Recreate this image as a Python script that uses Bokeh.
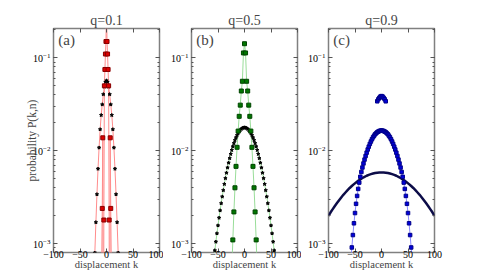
from bokeh.plotting import figure
from bokeh.layouts import row
from bokeh.models import Range1d, FixedTicker, LogTicker, LogAxis, LinearAxis, Label
from bokeh.embed import file_html
from bokeh.resources import INLINE

FONT = "Liberation Serif"

def mirror(ks, ps):
    k = [-x for x in reversed(ks[1:])] + list(ks)
    p = list(reversed(ps[1:])) + list(ps)
    return k, p

# ---------------- data ----------------
titles = ["q=0.1", "q=0.5", "q=0.9"]
tags = ["(a)", "(b)", "(c)"]
x_ticks = [-100, -50, 0, 50, 100]

# panel (a), q=0.1 : squares (connected in this order)
a_sq_k = [-14, -8, -7, -6, -5, -4, -3, -2, -1, 0, 1, 2, 3, 4, 5, 6, 7, 8, 14]
a_sq_p = [1e-6, 0.0024, 0.0138, 1e-6, 0.0018, 0.05, 0.075, 0.11, 0.15, 0.35,
          0.15, 0.11, 0.075, 0.05, 0.0018, 1e-6, 0.0138, 0.0024, 1e-6]
# panel (a) stars (k >= 0, symmetric)
a_st_k = [0, 2, 4, 6, 8, 10, 12, 14, 16, 18, 20, 22, 24, 30]
a_st_p = [0.057, 0.055, 0.049, 0.0405, 0.0315, 0.0242, 0.017, 0.0108, 0.0064,
          0.0034, 0.0017, 0.0008, 0.0003, 1e-5]

# panel (b), q=0.5 : squares (k >= 0, symmetric)
b_sq_k = [0, 2, 4, 6, 8, 10, 12, 14, 16, 18, 20, 22, 24]
b_sq_p = [0.142, 0.113, 0.056, 0.044, 0.031, 0.0235, 0.0163, 0.0109, 0.0068,
          0.0040, 0.0022, 0.0011, 0.0005]
# panel (b) stars (k >= 0, symmetric)
b_st_k = [0, 2, 4, 6, 8, 10, 12, 14, 16, 18, 20, 22, 24, 26, 28, 30, 32, 34, 36,
          38, 40, 42, 44, 46, 48, 50, 52, 54, 56, 58, 60]
b_st_p = [0.0178, 0.01773, 0.01753, 0.01719, 0.01673, 0.01615, 0.01548, 0.01472,
          0.01388, 0.01300, 0.01207, 0.01113, 0.01018, 0.00923, 0.00831, 0.00743,
          0.00659, 0.00579, 0.00506, 0.00438, 0.00376, 0.00321, 0.00272, 0.00228,
          0.00190, 0.00157, 0.00129, 0.00105, 0.000847, 0.000679, 0.000540]

# panel (c), q=0.9 : squares (k >= 0, symmetric)
c_sq_k = [0, 2, 4, 6, 8, 10, 12, 14, 16, 18, 20, 22, 24, 26, 28, 30, 32, 34, 36,
          38, 40, 42, 44, 46, 48, 50, 52, 54, 56, 58]
c_sq_p = [0.01652, 0.01648, 0.01633, 0.01611, 0.01585, 0.01549, 0.01507, 0.01455,
          0.01396, 0.01330, 0.01259, 0.01186, 0.01109, 0.01033, 0.00955, 0.00879,
          0.00804, 0.00731, 0.00661, 0.00592, 0.00525, 0.00455, 0.00389, 0.00327,
          0.00269, 0.00214, 0.00166, 0.00124, 0.000912, 0.00063]
# panel (c) small arch of squares near k=0
c_top_k = [0, 2, 4, 6, 8]
c_top_p = [0.0388, 0.0383, 0.0372, 0.0358, 0.0341]
# panel (c) stars (dense, thick dark line)
c_st_k = [0, 4, 8, 12, 16, 20, 24, 28, 32, 36, 40, 44, 48, 52, 56, 60, 64, 68,
          72, 76, 80, 84, 88, 92, 96, 100]
c_st_p = [0.00586, 0.00585, 0.00582, 0.00577, 0.00570, 0.00561, 0.00551, 0.00539,
          0.00525, 0.00510, 0.00493, 0.00476, 0.00457, 0.00438, 0.00418, 0.00398,
          0.00377, 0.00356, 0.00336, 0.00315, 0.00294, 0.00274, 0.00255, 0.00236,
          0.00218, 0.00200]

# ---------------- styling helpers ----------------
GREY = "#808080"

def style_axis(ax, labels=True):
    ax.axis_line_color = None
    ax.major_tick_in = 4
    ax.major_tick_out = 0
    ax.minor_tick_in = 2
    ax.minor_tick_out = 0
    ax.major_tick_line_color = "#555555"
    ax.minor_tick_line_color = "#555555"
    if labels:
        ax.major_label_text_font = FONT
        ax.major_label_text_font_size = "10px"
        ax.major_label_text_color = "black"
        ax.major_label_standoff = 2
    else:
        ax.major_label_text_font_size = "1px"
        ax.major_label_text_alpha = 0
        ax.major_label_standoff = 0


def panel(i, bl, br, ylabel=None):
    p = figure(frame_width=106, frame_height=224, y_axis_type="log",
               x_range=Range1d(-100, 100), y_range=Range1d(8.05e-4, 0.207),
               output_backend="svg", toolbar_location=None,
               min_border_left=bl, min_border_right=br,
               min_border_top=28, min_border_bottom=0)
    p.title.text = titles[i]
    p.title.align = "center"
    p.title.text_font = FONT
    p.title.text_font_size = "14px"
    p.title.text_font_style = "normal"
    p.title.standoff = 1
    p.grid.visible = False
    p.outline_line_color = GREY
    p.outline_line_width = 1.5

    xt = FixedTicker(ticks=x_ticks, minor_ticks=[])
    xa = p.xaxis[0]
    xa.ticker = xt
    xa.major_label_overrides = {t: (("−" + str(-t)) if t < 0 else str(t)) for t in x_ticks}
    style_axis(xa)
    xa.major_label_standoff = -2
    xa.axis_label = "displacement k"
    xa.axis_label_text_font = FONT
    xa.axis_label_text_font_size = "10.5px"
    xa.axis_label_text_font_style = "normal"
    xa.axis_label_standoff = -2

    ya = p.yaxis[0]
    ya.ticker = LogTicker(num_minor_ticks=10)
    style_axis(ya)
    ya.major_label_standoff = 3
    if ylabel:
        ya.axis_label = ylabel
        ya.axis_label_text_font = FONT
        ya.axis_label_text_font_size = "11.5px"
        ya.axis_label_text_font_style = "normal"
        ya.axis_label_standoff = -8

    top = LinearAxis(ticker=FixedTicker(ticks=x_ticks, minor_ticks=[]))
    style_axis(top, labels=False)
    p.add_layout(top, "above")
    right = LogAxis(ticker=LogTicker(num_minor_ticks=10))
    style_axis(right, labels=False)
    p.add_layout(right, "right")

    p.add_layout(Label(x=-91, y=0.155, text=tags[i], text_baseline="middle",
                       text_align="left", text_font=FONT, text_font_size="15px"))
    return p

# panel (a)
pa = panel(0, 53, 4, ylabel="probability P(k,n)")
ak, ap = mirror(a_st_k, a_st_p)
pa.line(a_sq_k, a_sq_p, line_color="#ff8c8c", line_width=1)
pa.line(ak, ap, line_color="#ff8c8c", line_width=1)
pa.scatter(ak, ap, marker="star", size=3.5, fill_color="black", line_color="black")
pa.scatter(a_sq_k, a_sq_p, marker="square", size=4, fill_color="#dd0000", line_color="#880000")

# panel (b)
pb = panel(1, 28, 4)
bk, bp = mirror(b_sq_k, b_sq_p)
sk, sp = mirror(b_st_k, b_st_p)
pb.line(bk, bp, line_color="#99dd99", line_width=1)
pb.line(sk, sp, line_color="#99dd99", line_width=1)
pb.scatter(sk, sp, marker="star", size=3.5, fill_color="black", line_color="black")
pb.scatter(bk, bp, marker="square", size=4, fill_color="#007700", line_color="#004400")

# panel (c)
pc = panel(2, 27, 14)
ck, cp = mirror(c_sq_k, c_sq_p)
tk, tp = mirror(c_top_k, c_top_p)
nk, np_ = mirror(c_st_k, c_st_p)
pc.line(ck, cp, line_color="#8888ff", line_width=1)
pc.line(nk, np_, line_color="#0c0c48", line_width=2.5)
pc.scatter(ck, cp, marker="square", size=3.5, fill_color="#0000dd", line_color="#000088")
pc.scatter(tk, tp, marker="square", size=3.5, fill_color="#0000dd", line_color="#000088")

layout = row(pa, pb, pc, spacing=0)
open("out.html", "w").write(file_html(layout, INLINE))
